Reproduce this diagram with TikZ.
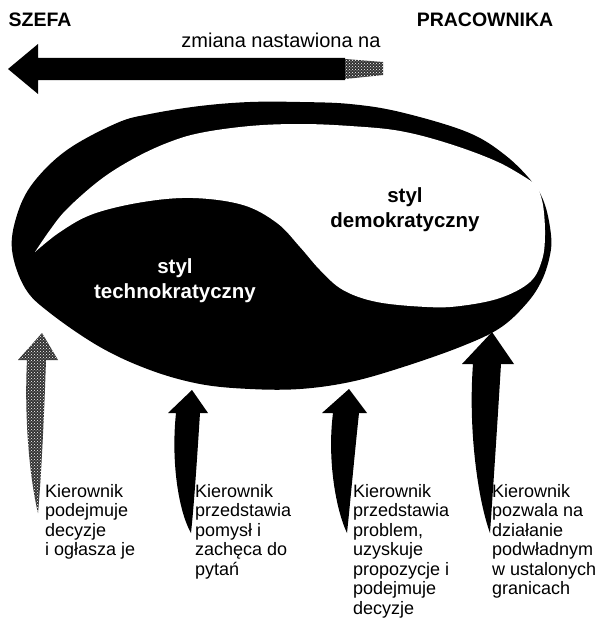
\documentclass[tikz,border=0pt]{standalone}
\usepackage{fontspec}
\setmainfont{Liberation Sans}
\usetikzlibrary{patterns}
\begin{document}
\begin{tikzpicture}[x=1pt,y=-1pt,
  headtxt/.style={font=\fontsize{19.5}{22}\selectfont\bfseries, inner sep=0},
  captxt/.style={font=\fontsize{20}{22}\selectfont, inner sep=0},
  styltxt/.style={font=\fontsize{20.5}{25}\selectfont\bfseries, align=center, inner sep=0},
  desctxt/.style={font=\fontsize{18}{19.5}\selectfont, align=left, anchor=north west, inner sep=0},
  speckle/.style={fill=black!80, postaction={pattern=crosshatch dots, pattern color=white}}]
\useasboundingbox (0,0) rectangle (601,626);

% top labels
\node[headtxt] (szefa) at (40,20) {SZEFA};
\node[headtxt] (prac) at (485,20) {PRACOWNIKA};
\node[captxt] (zmiana) at (281,40) {zmiana nastawiona na};

% top arrow
\fill (8,69) -- (38,44) -- (38,58) -- (345,58) -- (345,80) -- (38,80) -- (38,94) -- cycle;
\path[speckle] (345,59) -- (383,62) -- (383,75) -- (345,79) -- cycle;

% outer egg
\fill[black] plot[smooth cycle, tension=0.6] coordinates {
  (12,250) (25,288) (50,313) (100,347) (150,370) (200,384) (250,389)
  (300,389) (350,382) (400,368) (460,347) (500,328) (527,303) (542,280)
  (550,255) (551,235) (545,205) (533,183) (505,155) (467,132) (400,112)
  (350,104) (300,102) (250,102) (200,106) (150,114) (117,123) (67,150)
  (33,183) (17,215)};

% white region (democratic style)
\fill[white] plot[smooth, tension=0.6] coordinates {
  (35,252) (50,230) (67,209) (100,180) (133,159) (167,143) (200,133)
  (250,126) (300,124) (350,126) (400,131) (450,144) (500,163) (537,185)}
  -- plot[smooth, tension=0.6] coordinates {
  (537,185) (543,205) (545,235) (542,260) (530,282) (500,298) (460,306)
  (427,307) (377,302) (343,290) (320,270) (300,247) (277,223) (243,205)
  (193,198) (143,202) (93,214) (60,232) (35,252)} -- cycle;

\node[styltxt, text=white] (techno) at (175,281) {styl\\technokratyczny};
\node[styltxt, text=black] (demo) at (405,210) {styl\\demokratyczny};

% bottom arrows
\path[speckle] (42,333) -- (58,360) -- (46,360) .. controls (44,420) and (41,480) .. (38,513)
  .. controls (30,480) and (24,420) .. (27,360) -- (18,360) -- cycle;
\fill (192,390) -- (208,413) -- (200,413) .. controls (197,460) and (194,505) .. (191,533)
  .. controls (178,510) and (171,460) .. (176,413) -- (168,413) -- cycle;
\fill (349,389) -- (367,413) -- (359,413) .. controls (354,460) and (350,505) .. (347,533)
  .. controls (336,510) and (327,460) .. (333,413) -- (322,413) -- cycle;
\fill (492,332) -- (514,364) -- (501,364) .. controls (497,430) and (493,490) .. (490,533)
  .. controls (478,500) and (468,430) .. (473,364) -- (462,364) -- cycle;

% descriptions
\node[desctxt] (d1) at (45,484) {Kierownik\\podejmuje\\decyzje\\i ogłasza je};
\node[desctxt] (d2) at (195,484) {Kierownik\\przedstawia\\pomysł i\\zachęca do\\pytań};
\node[desctxt] (d3) at (353,484) {Kierownik\\przedstawia\\problem,\\uzyskuje\\propozycje i\\podejmuje\\decyzje};
\node[desctxt] (d4) at (492,484) {Kierownik\\pozwala na\\działanie\\podwładnym\\w ustalonych\\granicach};
\end{tikzpicture}
\end{document}
